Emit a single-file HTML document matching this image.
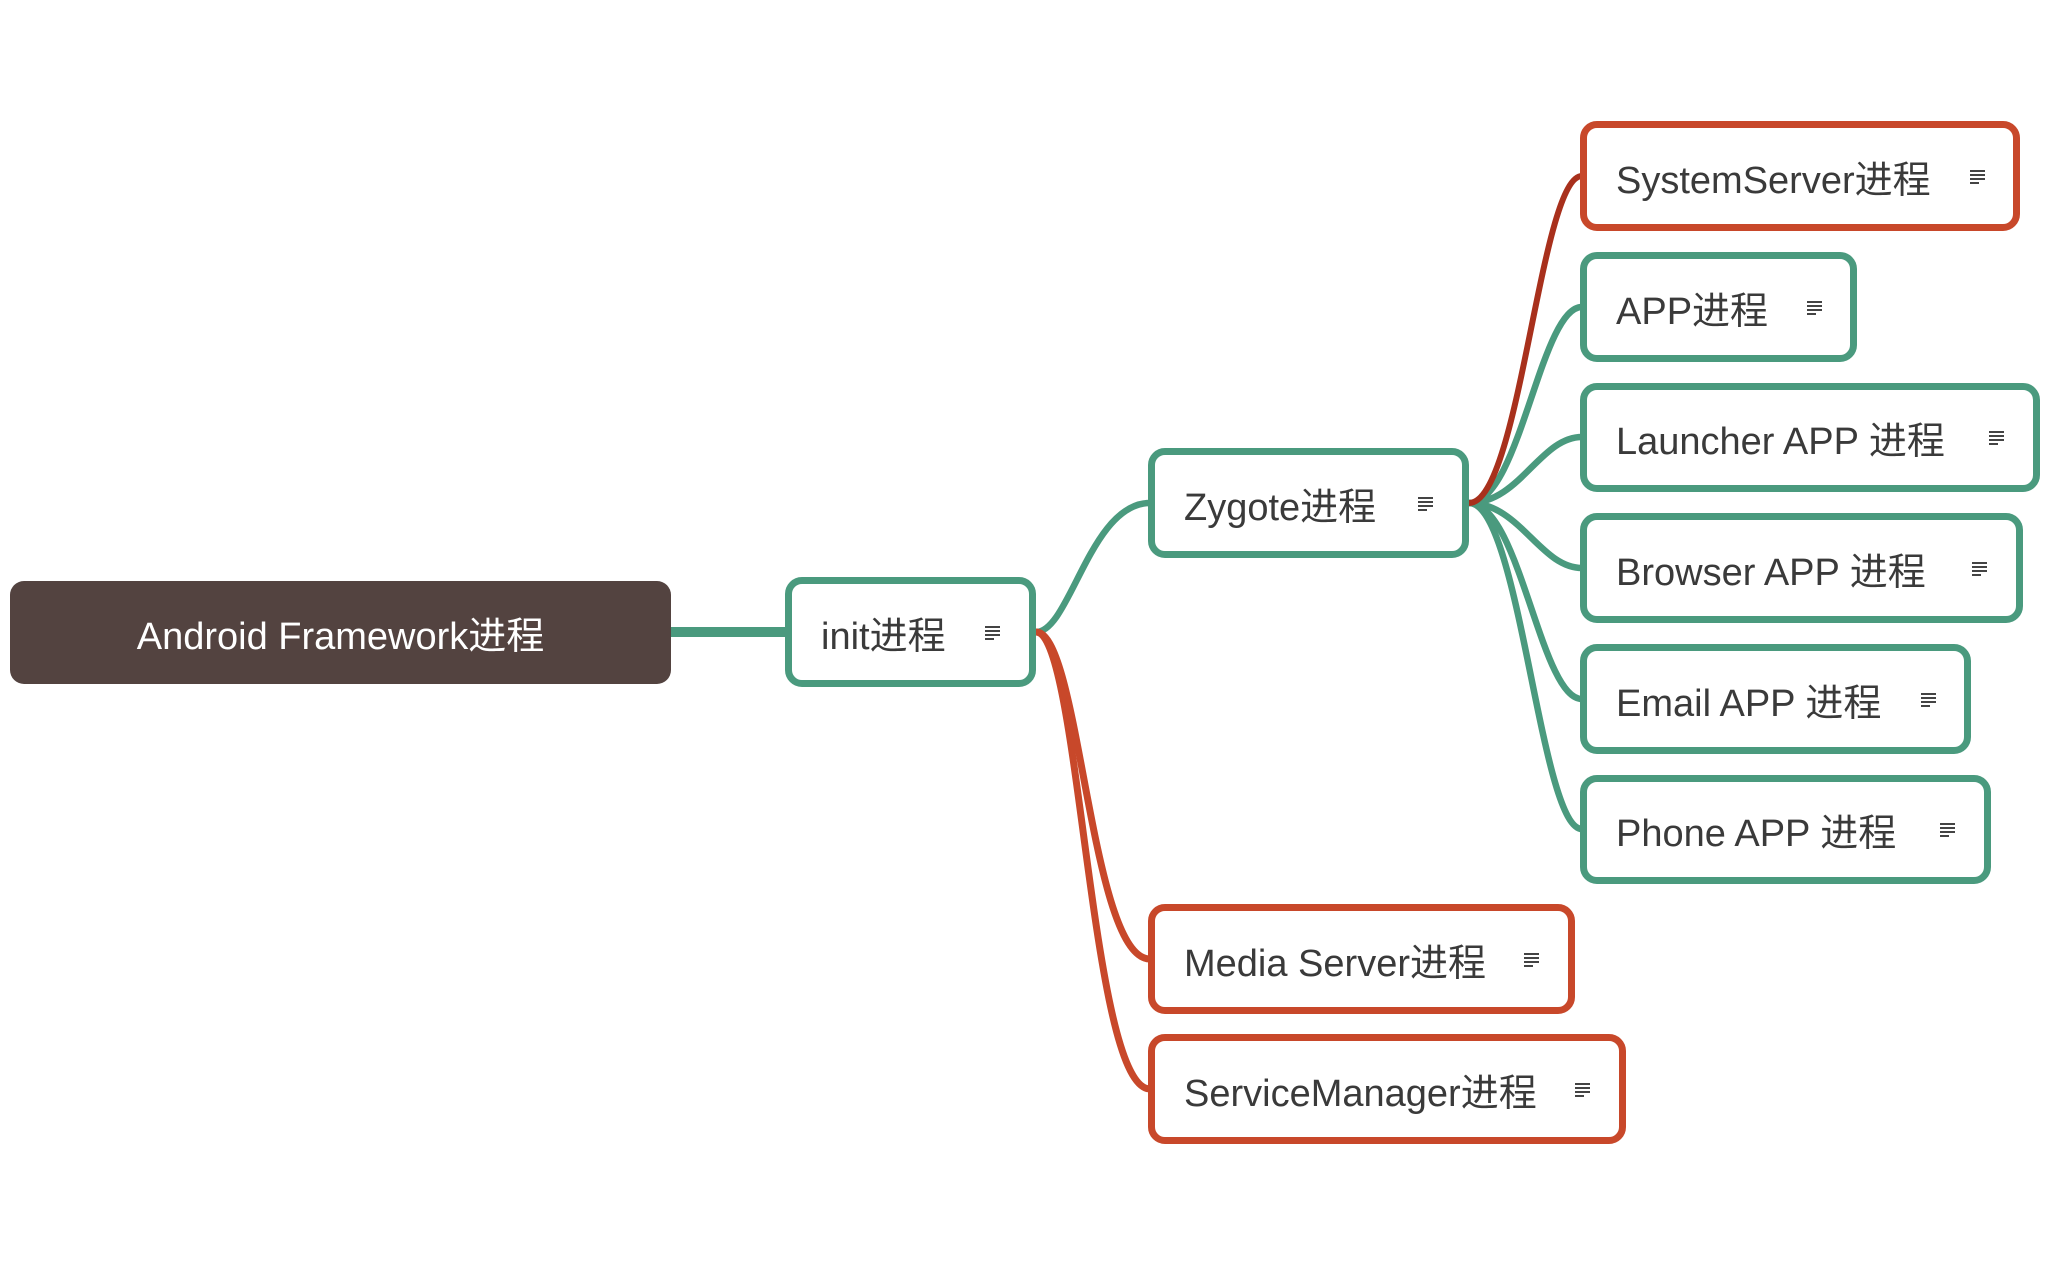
<!DOCTYPE html>
<html><head><meta charset="utf-8"><style>
html,body{margin:0;padding:0;background:#fff;}
body{width:2048px;height:1266px;position:relative;overflow:hidden;font-family:"Liberation Sans","Noto Sans CJK SC",sans-serif;}
.n{position:absolute;box-sizing:border-box;border:7px solid #4a9a7e;border-radius:17px;background:#fff;color:#3a3a3a;font-size:38px;display:flex;align-items:center;}
.o{border-color:#c8482a;}
.n span{position:absolute;left:29px;}
</style></head><body>
<svg width="2048" height="1266" style="position:absolute;left:0;top:0" fill="none" stroke-linecap="round">
<line x1="671" y1="632" x2="790" y2="632" stroke="#4a9a7e" stroke-width="10"/>
<g stroke="#4a9a7e" stroke-width="6.5">
<path d="M1036,632 C1070,632 1090,503 1150,503"/>
<path d="M1469,503 C1520,503 1540,307 1582,307"/>
<path d="M1469,503 C1520,503 1540,437 1582,437"/>
<path d="M1469,503 C1520,503 1540,568 1582,568"/>
<path d="M1469,503 C1520,503 1540,699 1582,699"/>
<path d="M1469,503 C1520,503 1540,829 1582,829"/>
</g>
<path d="M1469,503 C1520,503 1540,176 1582,176" stroke="#a8301c" stroke-width="6"/>
<g stroke="#c8482a" stroke-width="7">
<path d="M1036,632 C1080,632 1090,959 1150,959"/>
<path d="M1036,632 C1080,632 1090,1089 1150,1089"/>
</g>
</svg>
<div style="position:absolute;left:10px;top:581px;width:661px;height:103px;background:#534340;border-radius:14px;color:#fff;font-size:38px;display:flex;align-items:center;justify-content:center;">Android Framework进程</div>

<div class="n" style="left:785px;top:577px;width:251px;height:110px"><span>init进程</span></div>
<div class="n" style="left:1148px;top:448px;width:321px;height:110px"><span>Zygote进程</span></div>
<div class="n o" style="left:1580px;top:121px;width:440px;height:110px"><span>SystemServer进程</span></div>
<div class="n" style="left:1580px;top:252px;width:277px;height:110px"><span>APP进程</span></div>
<div class="n" style="left:1580px;top:383px;width:460px;height:109px"><span>Launcher APP 进程</span></div>
<div class="n" style="left:1580px;top:513px;width:443px;height:110px"><span>Browser APP 进程</span></div>
<div class="n" style="left:1580px;top:644px;width:391px;height:110px"><span>Email APP 进程</span></div>
<div class="n" style="left:1580px;top:775px;width:411px;height:109px"><span>Phone APP 进程</span></div>
<div class="n o" style="left:1148px;top:904px;width:427px;height:110px"><span>Media Server进程</span></div>
<div class="n o" style="left:1148px;top:1034px;width:478px;height:110px"><span>ServiceManager进程</span></div>

<svg width="2048" height="1266" style="position:absolute;left:0;top:0" stroke="#444" stroke-width="2">
<defs><g id="i"><line x1="0" y1="1" x2="15" y2="1"/><line x1="0" y1="5" x2="15" y2="5"/><line x1="0" y1="9" x2="15" y2="9"/><line x1="0" y1="13" x2="9" y2="13"/></g></defs>
<use href="#i" x="985" y="626"/>
<use href="#i" x="1418" y="497"/>
<use href="#i" x="1970" y="170"/>
<use href="#i" x="1807" y="301"/>
<use href="#i" x="1989" y="431"/>
<use href="#i" x="1972" y="562"/>
<use href="#i" x="1921" y="693"/>
<use href="#i" x="1940" y="823"/>
<use href="#i" x="1524" y="953"/>
<use href="#i" x="1575" y="1083"/>
</svg>
</body></html>
